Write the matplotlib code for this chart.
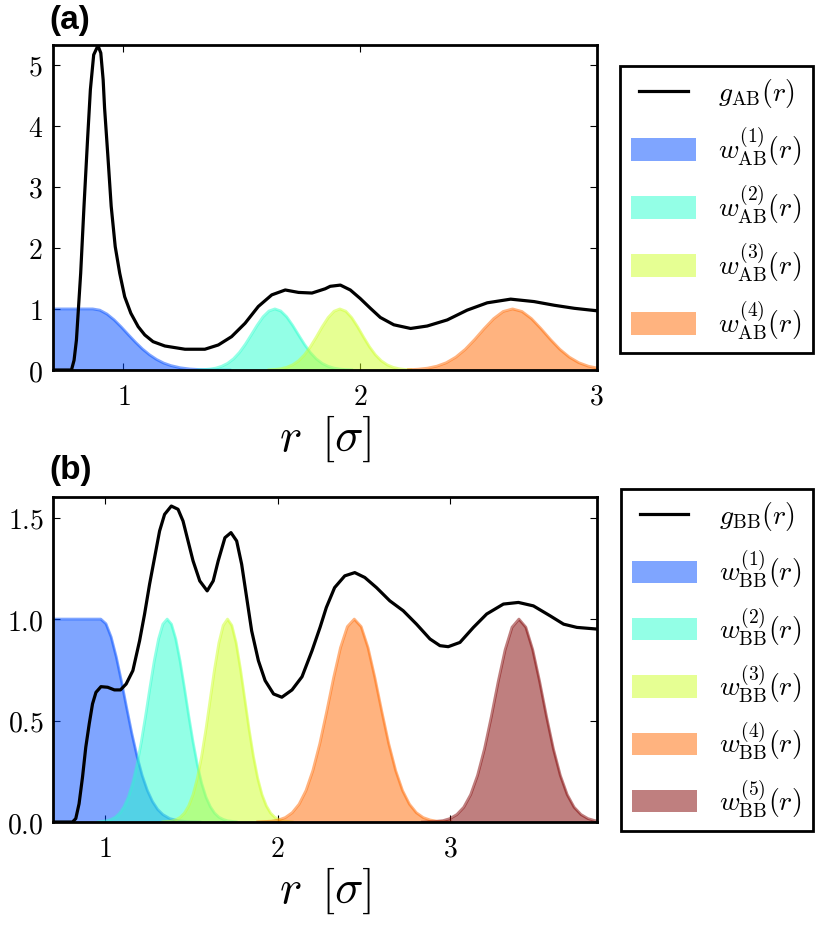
import matplotlib
matplotlib.use("Agg")
import matplotlib.pyplot as plt
from matplotlib.ticker import FuncFormatter

plt.rcParams["mathtext.fontset"] = "cm"

# --- data: panel (a), A-B pair ---
gab_r = [0.70, 0.780, 0.791, 0.801, 0.819, 0.833, 0.848, 0.860, 0.874, 0.892,
         0.904, 0.914, 0.920, 0.934, 0.948, 0.965, 0.984, 1.005, 1.031, 1.062,
         1.090, 1.125, 1.175, 1.260, 1.344, 1.401, 1.457, 1.514, 1.570, 1.627,
         1.684, 1.740, 1.797, 1.853, 1.874, 1.917, 1.959, 2.001, 2.044, 2.086,
         2.143, 2.214, 2.284, 2.369, 2.453, 2.538, 2.637, 2.736, 2.821, 2.906, 3.0]
gab = [0.0, 0.0, 0.16, 0.49, 1.585, 2.68, 3.77, 4.59, 5.16, 5.31,
       5.19, 4.75, 4.29, 3.50, 2.68, 2.02, 1.585, 1.20, 0.93, 0.71,
       0.574, 0.464, 0.393, 0.34, 0.34, 0.41, 0.546, 0.765, 1.04, 1.23,
       1.31, 1.27, 1.26, 1.33, 1.37, 1.39, 1.31, 1.17, 1.01, 0.86,
       0.74, 0.68, 0.72, 0.82, 0.98, 1.10, 1.16, 1.12, 1.06, 1.01, 0.97]

wab1_r = [0.70, 0.87, 0.90, 0.93, 0.96, 0.99, 1.02, 1.05, 1.08, 1.11, 1.14,
          1.17, 1.20, 1.24, 1.28, 1.32, 1.38, 1.45]
wab1 = [1.0, 1.0, 0.98, 0.917, 0.823, 0.707, 0.581, 0.458, 0.345, 0.250, 0.173,
        0.114, 0.073, 0.037, 0.017, 0.008, 0.002, 0.0]

wab2_r = [1.315, 1.34, 1.365, 1.39, 1.415, 1.44, 1.465, 1.49, 1.515, 1.54, 1.565,
          1.59, 1.615, 1.64, 1.665, 1.69, 1.715, 1.74, 1.765, 1.79, 1.815, 1.84,
          1.865, 1.89, 1.915, 1.94, 1.965]
wab2 = [0.003, 0.007, 0.015, 0.031, 0.061, 0.109, 0.183, 0.287, 0.421, 0.575, 0.732,
        0.871, 0.966, 1.0, 0.966, 0.871, 0.732, 0.575, 0.421, 0.287, 0.183, 0.109,
        0.061, 0.031, 0.015, 0.007, 0.003]

wab3_r = [1.615, 1.64, 1.665, 1.69, 1.715, 1.74, 1.765, 1.79, 1.815, 1.84, 1.865,
          1.89, 1.915, 1.94, 1.965, 1.99, 2.015, 2.04, 2.065, 2.09, 2.115, 2.14,
          2.165, 2.19, 2.215]
wab3 = [0.004, 0.009, 0.021, 0.044, 0.085, 0.151, 0.249, 0.381, 0.539, 0.707, 0.857,
        0.962, 1.0, 0.962, 0.857, 0.707, 0.539, 0.381, 0.249, 0.151, 0.085, 0.044,
        0.021, 0.009, 0.004]

wab4_r = [2.205, 2.245, 2.285, 2.325, 2.365, 2.405, 2.445, 2.485, 2.525, 2.565, 2.605,
          2.645, 2.685, 2.725, 2.765, 2.805, 2.845, 2.885, 2.925, 2.965, 3.005]
wab4 = [0.005, 0.013, 0.030, 0.063, 0.120, 0.211, 0.339, 0.501, 0.678, 0.841, 0.958,
        1.0, 0.958, 0.841, 0.678, 0.501, 0.339, 0.211, 0.120, 0.063, 0.030]

# --- data: panel (b), B-B pair ---
gbb_r = [0.70, 0.811, 0.830, 0.849, 0.869, 0.888, 0.908, 0.927, 0.947, 0.976,
         1.015, 1.054, 1.089, 1.122, 1.161, 1.200, 1.229, 1.258, 1.287, 1.316,
         1.345, 1.384, 1.423, 1.452, 1.481, 1.510, 1.549, 1.592, 1.627, 1.656,
         1.695, 1.730, 1.763, 1.792, 1.821, 1.850, 1.889, 1.928, 1.977, 2.025,
         2.084, 2.142, 2.200, 2.247, 2.283, 2.331, 2.390, 2.448, 2.506, 2.574,
         2.651, 2.729, 2.806, 2.884, 2.942, 2.990, 3.058, 3.136, 3.213, 3.310,
         3.397, 3.484, 3.581, 3.659, 3.736, 3.85]
gbb = [0.0, 0.0, 0.017, 0.09, 0.221, 0.369, 0.484, 0.582, 0.639, 0.667,
       0.664, 0.651, 0.651, 0.680, 0.746, 0.893, 1.025, 1.172, 1.303, 1.434,
       1.516, 1.557, 1.541, 1.483, 1.385, 1.287, 1.188, 1.139, 1.188, 1.287,
       1.401, 1.426, 1.385, 1.270, 1.106, 0.942, 0.795, 0.697, 0.631, 0.615,
       0.651, 0.716, 0.844, 0.96, 1.057, 1.155, 1.213, 1.229, 1.205, 1.155,
       1.090, 1.041, 0.975, 0.902, 0.869, 0.864, 0.885, 0.959, 1.025, 1.074,
       1.082, 1.065, 1.016, 0.975, 0.959, 0.951]

wbb1_r = [0.70, 0.975, 1.005, 1.035, 1.065, 1.095, 1.125, 1.155, 1.185, 1.215,
          1.245, 1.275, 1.305, 1.335, 1.375, 1.425, 1.475, 1.55]
wbb1 = [1.0, 1.0, 0.977, 0.912, 0.813, 0.693, 0.563, 0.437, 0.325, 0.230,
        0.156, 0.101, 0.062, 0.037, 0.017, 0.006, 0.002, 0.0]

wbb2_r = [0.96, 1.01, 1.035, 1.06, 1.085, 1.11, 1.135, 1.16, 1.185, 1.21, 1.235,
          1.26, 1.285, 1.31, 1.335, 1.36, 1.385, 1.41, 1.435, 1.46, 1.485, 1.51,
          1.535, 1.56, 1.585, 1.61, 1.635, 1.66, 1.685, 1.71, 1.76]
wbb2 = [0.001, 0.006, 0.013, 0.024, 0.044, 0.076, 0.123, 0.191, 0.282, 0.395, 0.524,
        0.662, 0.793, 0.902, 0.975, 1.0, 0.975, 0.902, 0.793, 0.662, 0.524, 0.395,
        0.282, 0.191, 0.123, 0.076, 0.044, 0.024, 0.013, 0.006, 0.001]

wbb3_r = [1.335, 1.385, 1.41, 1.435, 1.46, 1.485, 1.51, 1.535, 1.56, 1.585, 1.61,
          1.635, 1.66, 1.685, 1.71, 1.735, 1.76, 1.785, 1.81, 1.835, 1.86, 1.885,
          1.91, 1.935, 1.96, 1.985, 2.01, 2.035, 2.085]
wbb3 = [0.001, 0.005, 0.011, 0.023, 0.044, 0.080, 0.135, 0.216, 0.325, 0.458, 0.607,
        0.755, 0.883, 0.969, 1.0, 0.969, 0.883, 0.755, 0.607, 0.458, 0.325, 0.216,
        0.135, 0.080, 0.044, 0.023, 0.011, 0.005, 0.001]

wbb4_r = [1.885, 1.965, 2.005, 2.045, 2.085, 2.125, 2.165, 2.205, 2.245, 2.285,
          2.325, 2.365, 2.405, 2.445, 2.485, 2.525, 2.565, 2.605, 2.645, 2.685,
          2.725, 2.765, 2.805, 2.845, 2.885, 2.925, 3.005]
wbb4 = [0.001, 0.004, 0.010, 0.022, 0.046, 0.088, 0.155, 0.254, 0.386, 0.544,
        0.710, 0.859, 0.963, 1.0, 0.963, 0.859, 0.710, 0.544, 0.386, 0.254,
        0.155, 0.088, 0.046, 0.022, 0.010, 0.004, 0.001]

wbb5_r = [2.84, 2.92, 2.96, 3.00, 3.04, 3.08, 3.12, 3.16, 3.20, 3.24, 3.28, 3.32,
          3.36, 3.40, 3.44, 3.48, 3.52, 3.56, 3.60, 3.64, 3.68, 3.72, 3.76, 3.80,
          3.84, 3.88]
wbb5 = [0.0, 0.003, 0.007, 0.017, 0.037, 0.073, 0.135, 0.230, 0.360, 0.520, 0.693,
        0.849, 0.960, 1.0, 0.960, 0.849, 0.693, 0.520, 0.360, 0.230, 0.135, 0.073,
        0.037, 0.017, 0.007, 0.003]

panels = [
    dict(tag="(a)", pair="AB", g_r=gab_r, g=gab,
         windows=[(wab1_r, wab1), (wab2_r, wab2), (wab3_r, wab3), (wab4_r, wab4)],
         xlim=(0.7, 3.0), ylim=(0, 5.32), yticks=[0, 1, 2, 3, 4, 5], yfmt="{:g}",
         rect=[0.0633, 0.6030, 0.6554, 0.3487], tagy=0.9785,
         leg_anchor=(0.7470, 0.9292)),
    dict(tag="(b)", pair="BB", g_r=gbb_r, g=gbb,
         windows=[(wbb1_r, wbb1), (wbb2_r, wbb2), (wbb3_r, wbb3), (wbb4_r, wbb4),
                  (wbb5_r, wbb5)],
         xlim=(0.7, 3.85), ylim=(0, 1.6), yticks=[0.0, 0.5, 1.0, 1.5], yfmt="{:.1f}",
         rect=[0.0643, 0.1180, 0.6544, 0.3484], tagy=0.4957,
         leg_anchor=(0.7478, 0.4753)),
]

jet = plt.get_cmap("jet")

fig = plt.figure(figsize=(8.3, 9.32), dpi=100)

for p in panels:
    ax = fig.add_axes(p["rect"])
    handles = []
    line, = ax.plot(p["g_r"], p["g"], color="black", lw=2.3, zorder=4,
                    label=r"$g_{\mathrm{%s}}(r)$" % p["pair"])
    handles.append(line)
    for k, (wr, wv) in enumerate(p["windows"]):
        c = jet((k + 1) / 5)
        poly = ax.fill_between(wr, 0, wv, color=c, alpha=0.5, lw=0, zorder=2,
                               label=r"$w^{(%d)}_{\mathrm{%s}}(r)$" % (k + 1, p["pair"]))
        ax.plot(wr, wv, color=c, alpha=0.5, lw=2, zorder=2)
        handles.append(poly)

    ax.set_xlim(*p["xlim"])
    ax.set_ylim(*p["ylim"])
    ax.set_xticks([1, 2, 3])
    ax.set_yticks(p["yticks"])
    ax.xaxis.set_major_formatter(FuncFormatter(lambda v, pos: "$%g$" % v))
    fmt = p["yfmt"]
    ax.yaxis.set_major_formatter(FuncFormatter(lambda v, pos, f=fmt: "$" + f.format(v) + "$"))
    ax.tick_params(direction="in", top=True, right=True, length=5, width=0.8,
                   labelsize=20)
    ax.tick_params(axis="x", pad=9)
    ax.tick_params(axis="y", pad=7)
    for sp in ax.spines.values():
        sp.set_linewidth(2)
    ax.set_xlabel(r"$r\ \,[\sigma]$", fontsize=34, labelpad=2)

    fig.text(0.060, p["tagy"], p["tag"], fontsize=24, fontweight="bold",
             family="Liberation Sans", va="center", ha="left")

    leg = ax.legend(handles=handles, loc="upper left", bbox_to_anchor=p["leg_anchor"],
                    bbox_transform=fig.transFigure, borderaxespad=0, fontsize=20,
                    numpoints=2, handlelength=2.34, handleheight=0.86,
                    handletextpad=0.8, labelspacing=0.56, borderpad=0.4,
                    fancybox=False, framealpha=1, edgecolor="black")
    leg.get_frame().set_linewidth(2)

fig.savefig("out.png", dpi=100)
